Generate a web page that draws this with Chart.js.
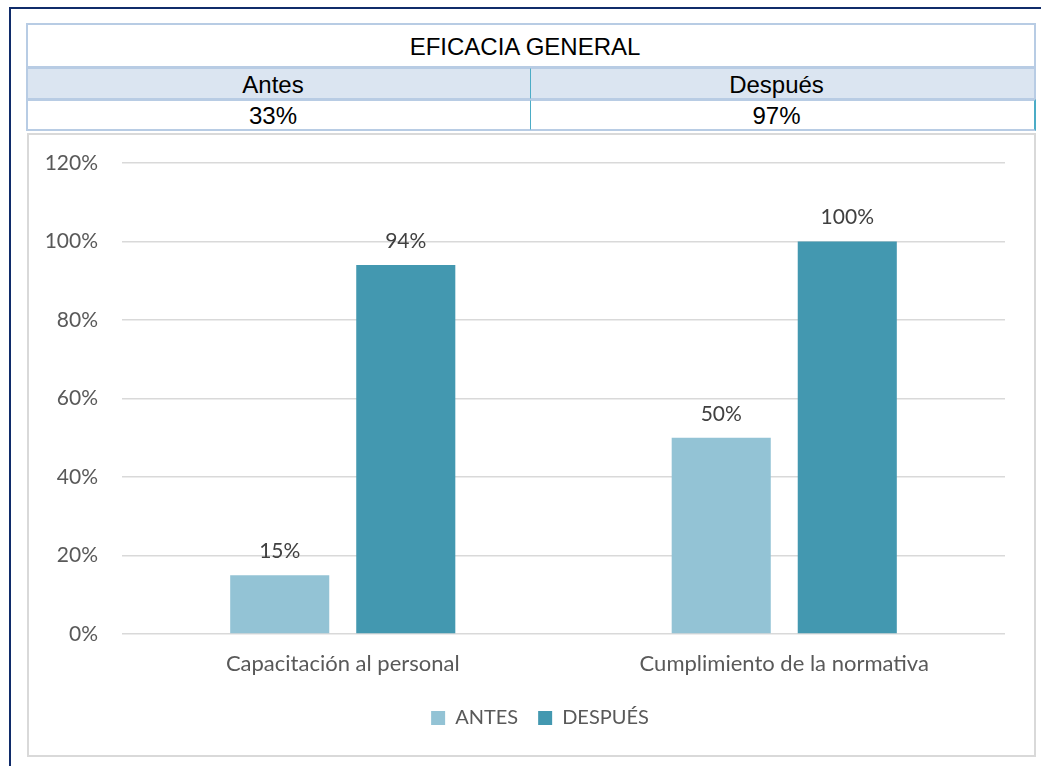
<!DOCTYPE html>
<html>
<head>
<meta charset="utf-8">
<script src="https://cdn.jsdelivr.net/npm/chart.js@4/dist/chart.umd.min.js"></script>
<style>
  html, body { margin: 0; padding: 0; background: #ffffff; }
  body { width: 1041px; height: 766px; position: relative; overflow: hidden; }
  #frame { position: absolute; left: 9px; top: 7px; width: 1060px; height: 800px; border: 2.5px solid #102c6a; box-sizing: border-box; }
  .cell { position: absolute; box-sizing: border-box; font-family: "Liberation Sans", Arial, sans-serif; font-size: 24px; color: #000; text-align: center; padding-right: 12px; }
  #chartbox { position: absolute; left: 27px; top: 133px; width: 1009px; height: 624px; border: 2px solid #d9d9d9; box-sizing: border-box; }
  #wrap { position: absolute; left: 29px; top: 135px; width: 1004px; height: 620px; }
</style>
</head>
<body>
<div id="frame"></div>
<div id="table"></div>
<div id="chartbox"></div>
<div id="wrap"><canvas id="c" width="1004" height="620"></canvas></div>
<script>
// ---- data ----
const tableTitle = "EFICACIA GENERAL";
const tableHeaders = ["Antes", "Después"];
const tableValues = ["33%", "97%"];

const categories = ["Capacitación al personal", "Cumplimiento de la normativa"];
const seriesNames = ["ANTES", "DESPUÉS"];
const antesValues = [15, 50];
const despuesValues = [94, 100];
const yTicks = [0, 20, 40, 60, 80, 100, 120];

// ---- table (HTML text) ----
(function buildTable() {
  const t = document.getElementById('table');
  const L = 26, R = 1036, M = 531;
  const rows = [
    { top: 23, h: 45, bg: '#ffffff' },
    { top: 67, h: 33, bg: '#dbe5f1' },
    { top: 99, h: 32, bg: '#ffffff' }
  ];
  function cell(x, y, w, h, bg, txt, borders) {
    const d = document.createElement('div');
    d.className = 'cell';
    d.style.left = x + 'px'; d.style.top = y + 'px';
    d.style.width = w + 'px'; d.style.height = h + 'px';
    d.style.lineHeight = (h - 2) + 'px';
    d.style.background = bg;
    d.style.border = '2px solid #b8cce4';
    if (borders) Object.keys(borders).forEach(k => d.style[k] = borders[k]);
    d.textContent = txt;
    t.appendChild(d);
  }
  cell(L, rows[0].top, R - L, rows[0].h, rows[0].bg, tableTitle);
  cell(L, rows[1].top, M - L + 1, rows[1].h, rows[1].bg, tableHeaders[0], { borderRight: '2px solid #4bacc6' });
  cell(M, rows[1].top, R - M, rows[1].h, rows[1].bg, tableHeaders[1], { borderLeft: 'none' });
  cell(L, rows[2].top, M - L + 1, rows[2].h, rows[2].bg, tableValues[0], { borderRight: '2px solid #4bacc6' });
  cell(M, rows[2].top, R - M, rows[2].h, rows[2].bg, tableValues[1], { borderLeft: 'none', borderRight: '2px solid #4bacc6' });
})();

// ---- chart ----
const FONT = 'Lato, "Open Sans", sans-serif';
const valueLabels = {
  id: 'valueLabels',
  afterDatasetsDraw(chart) {
    const ctx = chart.ctx;
    ctx.save();
    ctx.font = '21px ' + FONT;
    ctx.fillStyle = '#404040';
    ctx.textAlign = 'center';
    ctx.textBaseline = 'middle';
    chart.data.datasets.forEach((ds, i) => {
      chart.getDatasetMeta(i).data.forEach((el, j) => {
        ctx.fillText(ds.data[j] + '%', el.x, el.y - 24);
      });
    });
    ctx.restore();
  }
};
const shiftLegend = {
  id: 'shiftLegend',
  afterLayout(chart) {
    const lg = chart.legend;
    if (lg) { lg.left += 23; lg.right += 23; lg.top += 10; lg.bottom += 10; }
  }
};

new Chart(document.getElementById('c'), {
  type: 'bar',
  data: {
    labels: categories,
    datasets: [
      { label: seriesNames[0], data: antesValues, backgroundColor: '#93c3d5', categoryPercentage: 0.571, barPercentage: 0.786 },
      { label: seriesNames[1], data: despuesValues, backgroundColor: '#4398b0', categoryPercentage: 0.571, barPercentage: 0.786 }
    ]
  },
  options: {
    responsive: false,
    animation: false,
    layout: { padding: { top: 28, right: 28, left: 0, bottom: 27 } },
    scales: {
      x: {
        afterFit(s) { s.height = 44; s.paddingLeft = 0; s.paddingRight = 0; },
        grid: { display: false, drawTicks: false },
        border: { display: false },
        ticks: { color: '#595959', font: { family: FONT, size: 22 }, padding: 17 }
      },
      y: {
        min: 0, max: 120,
        afterFit(s) { s.width = 93; s.paddingTop = 0; s.paddingBottom = 0; },
        afterBuildTicks(s) { s.ticks = yTicks.map(v => ({ value: v })); },
        grid: { color: '#d9d9d9', lineWidth: 1.5, drawTicks: false },
        border: { display: false },
        ticks: { color: '#595959', font: { family: FONT, size: 21 }, padding: 24, callback: v => v + '%' }
      }
    },
    plugins: {
      legend: {
        position: 'bottom',
        labels: { color: '#595959', font: { family: FONT, size: 20 }, boxWidth: 14, boxHeight: 14, padding: 20 }
      },
      tooltip: { enabled: false }
    }
  },
  plugins: [valueLabels, shiftLegend]
});
</script>
</body>
</html>
